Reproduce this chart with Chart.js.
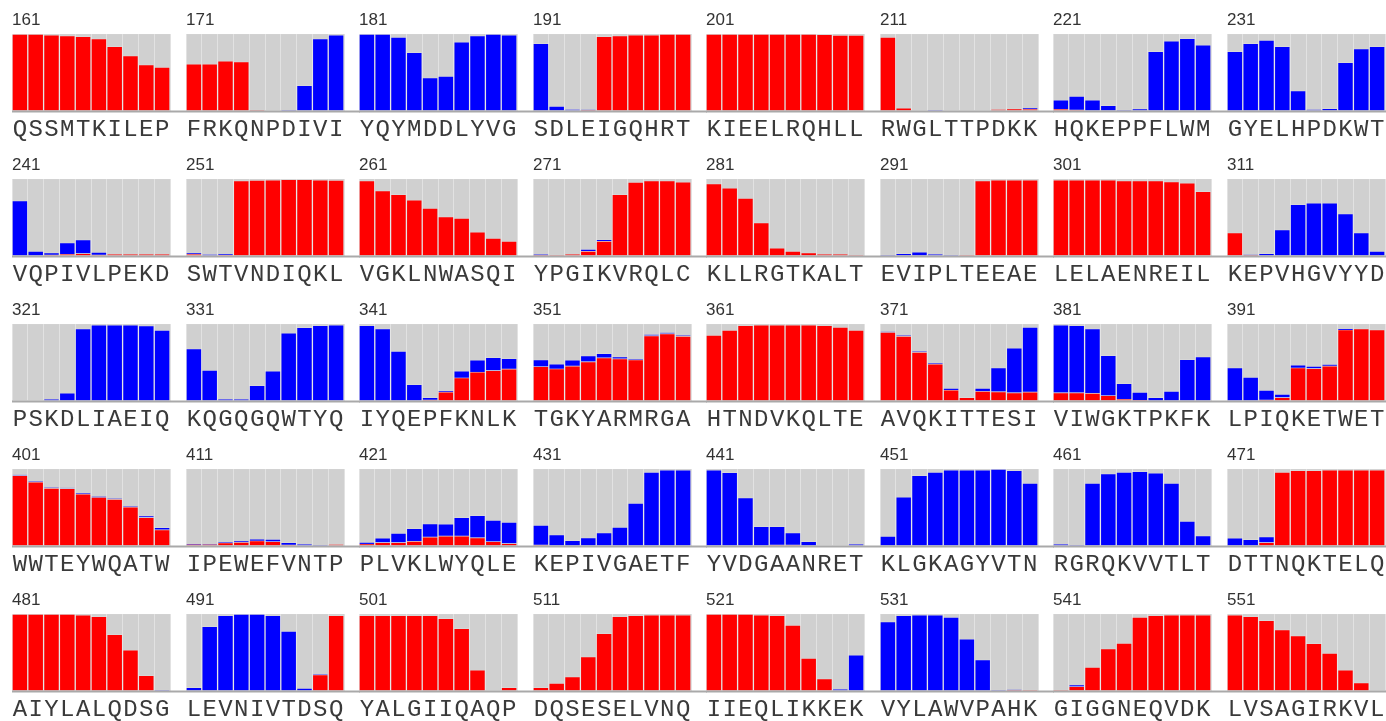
<!DOCTYPE html>
<html>
<head>
<meta charset="utf-8">
<script src="https://cdn.jsdelivr.net/npm/chart.js@4.4.1/dist/chart.umd.min.js"></script>
<style>
  html, body { margin: 0; padding: 0; background: #fff; overflow: hidden; }
  #grid { position: relative; width: 1386px; height: 721px; }
  .panel { position: absolute; }
</style>
</head>
<body>
<div id="grid"></div>
<script>
'use strict';

// residue number printed above each panel
const startResidues = [
  161, 171, 181, 191, 201, 211, 221, 231,
  241, 251, 261, 271, 281, 291, 301, 311,
  321, 331, 341, 351, 361, 371, 381, 391,
  401, 411, 421, 431, 441, 451, 461, 471,
  481, 491, 501, 511, 521, 531, 541, 551,
];

// one letter under each bar
const sequences = [
  'QSSMTKILEP', 'FRKQNPDIVI', 'YQYMDDLYVG', 'SDLEIGQHRT', 'KIEELRQHLL', 'RWGLTTPDKK', 'HQKEPPFLWM', 'GYELHPDKWT',
  'VQPIVLPEKD', 'SWTVNDIQKL', 'VGKLNWASQI', 'YPGIKVRQLC', 'KLLRGTKALT', 'EVIPLTEEAE', 'LELAENREIL', 'KEPVHGVYYD',
  'PSKDLIAEIQ', 'KQGQGQWTYQ', 'IYQEPFKNLK', 'TGKYARMRGA', 'HTNDVKQLTE', 'AVQKITTESI', 'VIWGKTPKFK', 'LPIQKETWET',
  'WWTEYWQATW', 'IPEWEFVNTP', 'PLVKLWYQLE', 'KEPIVGAETF', 'YVDGAANRET', 'KLGKAGYVTN', 'RGRQKVVTLT', 'DTTNQKTELQ',
  'AIYLALQDSG', 'LEVNIVTDSQ', 'YALGIIQAQP', 'DQSESELVNQ', 'IIEQLIKKEK', 'VYLAWVPAHK', 'GIGGNEQVDK', 'LVSAGIRKVL',
];

// red segment (bottom of each stack)
const redValues = [
  [1.0, 1.0, 0.99, 0.98, 0.97, 0.94, 0.84, 0.72, 0.60, 0.57],
  [0.61, 0.61, 0.65, 0.64, 0.01, 0, 0, 0, 0, 0],
  [0, 0, 0, 0, 0, 0, 0, 0, 0, 0],
  [0, 0, 0, 0.005, 0.97, 0.98, 0.99, 0.99, 1.0, 1.0],
  [1.0, 1.0, 1.0, 1.0, 1.0, 1.0, 1.0, 0.995, 0.985, 0.985],
  [0.96, 0.035, 0, 0, 0, 0, 0, 0.015, 0.025, 0.02],
  [0.02, 0.01, 0, 0, 0, 0, 0, 0, 0, 0],
  [0, 0, 0, 0, 0, 0, 0, 0, 0, 0],

  [0, 0, 0.01, 0.02, 0.03, 0.01, 0.02, 0.02, 0.02, 0.02],
  [0.02, 0, 0.01, 0.98, 0.985, 0.99, 0.995, 0.995, 0.99, 0.985],
  [0.98, 0.85, 0.80, 0.73, 0.62, 0.51, 0.49, 0.31, 0.23, 0.19],
  [0.005, 0.01, 0.02, 0.06, 0.19, 0.80, 0.96, 0.98, 0.98, 0.965],
  [0.94, 0.885, 0.75, 0.43, 0.10, 0.06, 0.04, 0.017, 0.017, 0.004],
  [0, 0, 0, 0, 0, 0.005, 0.98, 0.99, 0.99, 0.99],
  [0.99, 0.99, 0.99, 0.99, 0.98, 0.98, 0.98, 0.966, 0.95, 0.84],
  [0.30, 0.005, 0, 0, 0, 0, 0, 0, 0, 0],

  [0, 0, 0, 0, 0, 0, 0, 0, 0, 0],
  [0, 0, 0, 0, 0, 0, 0, 0, 0, 0],
  [0, 0, 0, 0, 0.01, 0.115, 0.30, 0.375, 0.395, 0.415],
  [0.447, 0.417, 0.455, 0.511, 0.562, 0.549, 0.536, 0.851, 0.877, 0.843],
  [0.855, 0.92, 0.983, 0.99, 0.99, 0.99, 0.99, 0.983, 0.962, 0.92],
  [0.894, 0.843, 0.634, 0.481, 0.14, 0.043, 0.123, 0.119, 0.106, 0.115],
  [0.106, 0.106, 0.098, 0.068, 0.02, 0.005, 0, 0, 0, 0],
  [0, 0, 0.01, 0.043, 0.43, 0.421, 0.455, 0.928, 0.94, 0.928],

  [0.919, 0.834, 0.753, 0.749, 0.677, 0.634, 0.609, 0.506, 0.37, 0.209],
  [0.015, 0.015, 0.04, 0.047, 0.064, 0.055, 0.01, 0, 0, 0.015],
  [0.026, 0.043, 0.043, 0.06, 0.115, 0.128, 0.128, 0.106, 0.055, 0.03],
  [0.01, 0, 0, 0, 0, 0, 0, 0, 0, 0],
  [0, 0, 0, 0, 0.01, 0.01, 0, 0, 0, 0],
  [0, 0, 0, 0, 0, 0, 0, 0, 0, 0],
  [0, 0, 0, 0, 0, 0, 0, 0, 0, 0],
  [0, 0, 0.043, 0.962, 0.983, 0.983, 0.991, 0.991, 0.991, 0.991],

  [1.0, 1.0, 1.0, 1.0, 0.99, 0.97, 0.736, 0.532, 0.20, 0],
  [0, 0, 0, 0, 0, 0, 0, 0, 0.21, 0.983],
  [0.983, 0.983, 0.983, 0.983, 0.983, 0.945, 0.813, 0.272, 0, 0.043],
  [0.043, 0.098, 0.183, 0.443, 0.749, 0.97, 0.983, 0.991, 0.991, 0.991],
  [1.0, 1.0, 1.0, 0.991, 0.983, 0.855, 0.426, 0.157, 0, 0],
  [0, 0, 0, 0, 0, 0, 0, 0, 0.005, 0.01],
  [0.01, 0.055, 0.306, 0.549, 0.621, 0.962, 0.983, 0.991, 0.991, 0.991],
  [0.991, 0.97, 0.919, 0.796, 0.719, 0.617, 0.489, 0.272, 0.106, 0],
];

// blue segment (stacked on top of red)
const blueValues = [
  [0, 0, 0, 0, 0, 0, 0, 0, 0, 0],
  [0, 0, 0, 0, 0, 0, 0.005, 0.33, 0.94, 0.99],
  [1.0, 1.0, 0.96, 0.76, 0.43, 0.45, 0.90, 0.98, 1.0, 0.99],
  [0.88, 0.06, 0.015, 0.005, 0, 0, 0, 0, 0, 0],
  [0, 0, 0, 0, 0, 0, 0, 0, 0, 0],
  [0, 0, 0, 0.005, 0, 0, 0, 0, 0, 0.015],
  [0.12, 0.18, 0.14, 0.07, 0.01, 0.025, 0.775, 0.91, 0.945, 0.86],
  [0.775, 0.88, 0.92, 0.84, 0.26, 0.013, 0.03, 0.63, 0.81, 0.84],

  [0.72, 0.06, 0.03, 0.15, 0.18, 0.035, 0, 0, 0, 0],
  [0.015, 0.015, 0.01, 0, 0, 0, 0, 0, 0, 0],
  [0, 0, 0, 0, 0, 0, 0, 0, 0, 0],
  [0.008, 0, 0, 0.025, 0.02, 0, 0, 0, 0, 0],
  [0, 0, 0, 0, 0, 0, 0, 0, 0, 0],
  [0.01, 0.03, 0.05, 0.02, 0.01, 0, 0, 0, 0, 0],
  [0, 0, 0, 0, 0, 0, 0, 0, 0, 0],
  [0, 0.005, 0.03, 0.34, 0.67, 0.69, 0.69, 0.55, 0.30, 0.06],

  [0, 0, 0.02, 0.10, 0.94, 0.99, 0.99, 0.99, 0.98, 0.92],
  [0.68, 0.40, 0.02, 0.02, 0.20, 0.39, 0.885, 0.957, 0.983, 0.99],
  [0.983, 0.94, 0.647, 0.213, 0.033, 0.015, 0.09, 0.157, 0.17, 0.138],
  [0.089, 0.064, 0.077, 0.076, 0.055, 0.025, 0.005, 0.01, 0.008, 0.008],
  [0, 0, 0, 0, 0, 0, 0, 0, 0, 0],
  [0.005, 0.005, 0.005, 0.005, 0.022, 0, 0.039, 0.311, 0.583, 0.847],
  [0.885, 0.877, 0.842, 0.523, 0.206, 0.106, 0.043, 0.123, 0.54, 0.574],
  [0.43, 0.306, 0.126, 0.042, 0.038, 0.03, 0.017, 0.003, 0, 0],

  [0.003, 0.003, 0.003, 0.003, 0.003, 0.003, 0.003, 0.005, 0.021, 0.029],
  [0.005, 0.003, 0.003, 0.008, 0.021, 0.03, 0.033, 0.02, 0.005, 0],
  [0.017, 0.059, 0.119, 0.166, 0.174, 0.157, 0.242, 0.29, 0.277, 0.276],
  [0.258, 0.145, 0.068, 0.106, 0.17, 0.243, 0.557, 0.962, 0.991, 0.991],
  [0.991, 0.957, 0.626, 0.251, 0.241, 0.16, 0.055, 0, 0, 0.02],
  [0.123, 0.638, 0.919, 0.962, 0.991, 0.991, 0.991, 1.0, 0.983, 0.817],
  [0.02, 0.005, 0.817, 0.94, 0.962, 0.97, 0.949, 0.817, 0.319, 0.132],
  [0.102, 0.081, 0.076, 0, 0, 0, 0, 0, 0, 0],

  [0, 0, 0, 0, 0, 0, 0, 0, 0, 0.01],
  [0.043, 0.838, 0.983, 1.0, 1.0, 0.983, 0.779, 0.034, 0.007, 0],
  [0, 0, 0, 0, 0, 0, 0, 0, 0, 0],
  [0, 0, 0, 0, 0, 0, 0, 0, 0, 0],
  [0, 0, 0, 0, 0, 0, 0, 0, 0.02, 0.466],
  [0.902, 0.983, 0.991, 0.991, 0.962, 0.677, 0.404, 0.01, 0.005, 0],
  [0, 0.022, 0, 0, 0, 0, 0, 0, 0, 0],
  [0, 0, 0, 0, 0, 0, 0, 0, 0, 0],
];

const COLS = 8;
const PITCH_X = 173.5;
const PITCH_Y = 145;

// gray plot background + baseline running into the gap
const panelBg = {
  id: 'panelBg',
  beforeDraw(chart) {
    const { ctx, chartArea: a } = chart;
    ctx.save();
    ctx.fillStyle = '#d0d0d0';
    ctx.fillRect(a.left, a.top, a.right - a.left, a.bottom - a.top);
    ctx.restore();
  },
  afterDraw(chart) {
    const { ctx, chartArea: a } = chart;
    ctx.save();
    ctx.strokeStyle = '#a9a9a9';
    ctx.lineWidth = 2;
    ctx.beginPath();
    ctx.moveTo(a.left, a.bottom + 1);
    ctx.lineTo(chart.width, a.bottom + 1);
    ctx.stroke();
    ctx.restore();
  },
};

const grid = document.getElementById('grid');

startResidues.forEach((num, i) => {
  const row = Math.floor(i / COLS);
  const col = i % COLS;
  const wrap = document.createElement('div');
  wrap.className = 'panel';
  wrap.style.left = (12 + col * PITCH_X) + 'px';
  wrap.style.top = (row * PITCH_Y) + 'px';
  const canvas = document.createElement('canvas');
  canvas.width = 174;
  canvas.height = 149;
  wrap.appendChild(canvas);
  grid.appendChild(wrap);

  new Chart(canvas, {
    type: 'bar',
    data: {
      labels: sequences[i].split(''),
      datasets: [
        { data: redValues[i], backgroundColor: '#ff0000', borderColor: 'rgba(255,255,255,0.15)', borderWidth: 1 },
        { data: blueValues[i], backgroundColor: '#0000ff', borderColor: 'rgba(255,255,255,0.15)', borderWidth: 1 },
      ],
    },
    options: {
      responsive: false,
      animation: false,
      devicePixelRatio: 1,
      layout: { padding: { left: 0, right: 16, top: 0, bottom: 0 } },
      datasets: { bar: { barPercentage: 1, categoryPercentage: 1 } },
      plugins: {
        legend: { display: false },
        tooltip: { enabled: false },
        title: {
          display: true,
          text: String(num),
          align: 'start',
          color: '#333',
          font: { family: 'Liberation Sans', size: 17, weight: 'normal', lineHeight: 1.15 },
          padding: { top: 11, bottom: 3.5 },
        },
      },
      scales: {
        x: {
          stacked: true,
          grid: { color: '#e2e2e2', offset: true, drawTicks: false },
          border: { display: false },
          ticks: {
            autoSkip: false, maxRotation: 0, padding: 0, color: '#3a3a3a',
            font: { family: 'Liberation Mono', size: 24, lineHeight: 1.6 },
          },
        },
        y: { stacked: true, display: false, min: 0, max: 1 },
      },
    },
    plugins: [panelBg],
  });
});
</script>
</body>
</html>
